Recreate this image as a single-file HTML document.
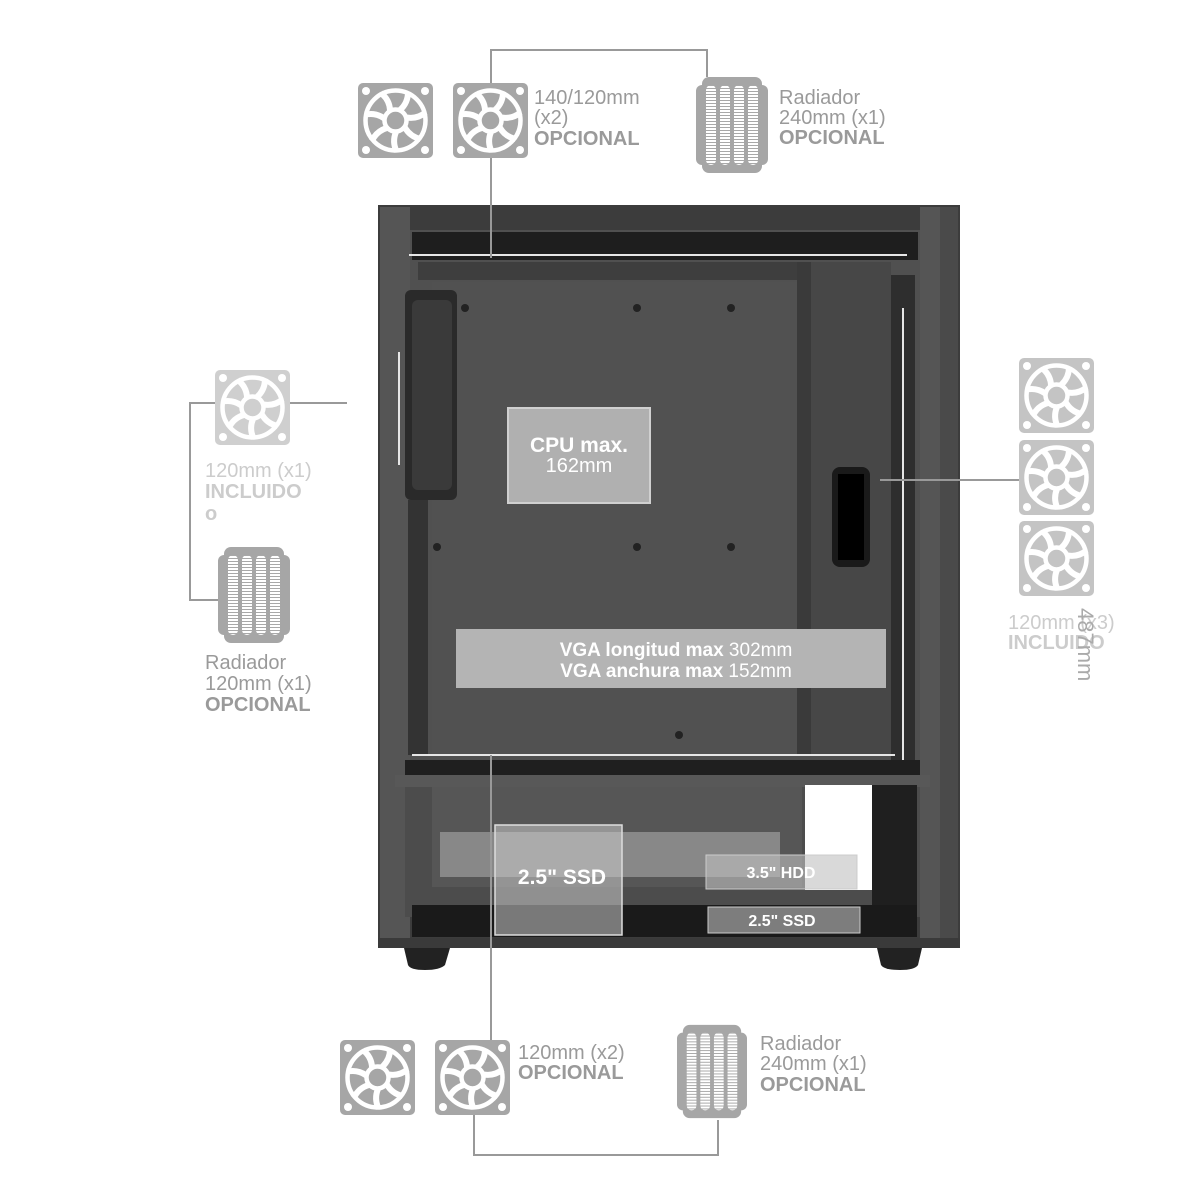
<!DOCTYPE html>
<html><head><meta charset="utf-8"><style>
html,body{margin:0;padding:0;background:#fff;}
svg{display:block;}
text{font-family:"Liberation Sans",sans-serif;}
</style></head><body>
<svg width="1200" height="1200" viewBox="0 0 1200 1200" xmlns="http://www.w3.org/2000/svg">
<defs>
<symbol id="fan" viewBox="0 0 75 75">
 <rect x="0" y="0" width="75" height="75" rx="5" fill="currentColor"/>
 <circle cx="8" cy="8" r="4" fill="#fff"/><circle cx="67" cy="8" r="4" fill="#fff"/>
 <circle cx="8" cy="67" r="4" fill="#fff"/><circle cx="67" cy="67" r="4" fill="#fff"/>
 <circle cx="37.5" cy="37.5" r="30" fill="none" stroke="#fff" stroke-width="4.5"/>
 <circle cx="37.5" cy="37.5" r="11" fill="none" stroke="#fff" stroke-width="4.5"/>
 <g fill="none" stroke="#fff" stroke-width="6">
  <path id="bl" d="M42 27 Q50 20 50 9"/>
  <use href="#bl" transform="rotate(51.4 37.5 37.5)"/>
  <use href="#bl" transform="rotate(102.8 37.5 37.5)"/>
  <use href="#bl" transform="rotate(154.2 37.5 37.5)"/>
  <use href="#bl" transform="rotate(205.6 37.5 37.5)"/>
  <use href="#bl" transform="rotate(257 37.5 37.5)"/>
  <use href="#bl" transform="rotate(308.4 37.5 37.5)"/>
 </g>
 <circle cx="37.5" cy="37.5" r="8.5" fill="currentColor"/>
</symbol>
<pattern id="stripes" width="4" height="3" patternUnits="userSpaceOnUse">
 <rect width="4" height="3" fill="#fff"/><rect y="2" width="4" height="1" fill="#a8a8a8"/>
</pattern>
<symbol id="rad" viewBox="0 0 72 96">
 <rect x="0" y="8" width="72" height="80" rx="6" fill="currentColor"/>
 <rect x="6" y="0" width="60" height="96" rx="7" fill="currentColor"/>
 <g fill="url(#stripes)">
  <rect x="10" y="8" width="10" height="80" rx="5"/>
  <rect x="24" y="8" width="10" height="80" rx="5"/>
  <rect x="38" y="8" width="10" height="80" rx="5"/>
  <rect x="52" y="8" width="10" height="80" rx="5"/>
 </g>
</symbol>
</defs>

<rect x="378" y="205" width="582" height="743" fill="#3c3c3c"/>
<rect x="380" y="207" width="30" height="739" fill="#555"/>
<rect x="920" y="207" width="38" height="739" fill="#555"/>
<rect x="940" y="207" width="18" height="739" fill="#4a4a4a"/>
<rect x="410" y="230" width="510" height="530" fill="#505050"/>
<rect x="412" y="232" width="506" height="28" fill="#1e1e1e"/>
<rect x="418" y="262" width="385" height="18" fill="#3e3e3e"/>
<rect x="432" y="282" width="365" height="474" fill="#515151"/>
<rect x="797" y="262" width="14" height="494" fill="#3a3a3a"/>
<rect x="811" y="262" width="80" height="494" fill="#474747"/>
<rect x="891" y="275" width="24" height="485" fill="#2e2e2e"/>
<rect x="405" y="290" width="52" height="210" rx="6" fill="#2a2a2a"/>
<rect x="412" y="300" width="40" height="190" rx="6" fill="#3a3a3a"/>
<rect x="408" y="500" width="20" height="255" fill="#333"/>
<rect x="832" y="467" width="38" height="100" rx="8" fill="#1a1a1a"/>
<rect x="838" y="474" width="26" height="86" fill="#000"/>
<g fill="#222"><circle cx="465" cy="308" r="4"/><circle cx="637" cy="308" r="4"/><circle cx="731" cy="308" r="4"/>
<circle cx="437" cy="547" r="4"/><circle cx="637" cy="547" r="4"/><circle cx="731" cy="547" r="4"/><circle cx="679" cy="735" r="4"/></g>
<rect x="405" y="760" width="515" height="25" fill="#1f1f1f"/>
<rect x="395" y="775" width="535" height="12" fill="#585858"/>
<rect x="405" y="787" width="515" height="130" fill="#4c4c4c"/>
<rect x="432" y="787" width="370" height="100" fill="#565656"/>
<rect x="440" y="832" width="340" height="45" fill="#9a9a9a" opacity="0.75"/>
<rect x="805" y="785" width="67" height="105" fill="#fff"/>
<rect x="872" y="785" width="45" height="130" fill="#1f1f1f"/>
<rect x="412" y="905" width="505" height="32" fill="#1a1a1a"/>
<rect x="378" y="938" width="582" height="10" fill="#3a3a3a"/>
<path d="M404 948 H450 L445 965 Q440 970 425 970 Q410 970 408 965 Z" fill="#222"/>
<path d="M877 948 H922 L918 965 Q915 970 900 970 Q884 970 881 965 Z" fill="#222"/>

<g stroke="#e6e6e6" stroke-width="2">
<line x1="409" y1="255" x2="907" y2="255"/>
<line x1="412" y1="755" x2="895" y2="755"/>
<line x1="903" y1="308" x2="903" y2="760"/>
<line x1="399" y1="352" x2="399" y2="465"/>
</g>

<rect x="508" y="408" width="142" height="95" fill="#b0b0b0" stroke="#d0d0d0" stroke-width="2"/>
<text x="579" y="452" text-anchor="middle" font-size="21" font-weight="bold" fill="#fff">CPU max.</text>
<text x="579" y="472" text-anchor="middle" font-size="20" fill="#fff">162mm</text>
<rect x="456" y="629" width="430" height="59" fill="#b4b4b4"/>
<text x="676" y="656" text-anchor="middle" font-size="19" fill="#fff"><tspan font-weight="bold">VGA longitud max</tspan> 302mm</text>
<text x="676" y="677" text-anchor="middle" font-size="19" fill="#fff"><tspan font-weight="bold">VGA anchura max</tspan> 152mm</text>
<rect x="495" y="825" width="127" height="110" fill="#c8c8c8" fill-opacity="0.55" stroke="#ddd" stroke-width="1.5"/>
<text x="562" y="884" text-anchor="middle" font-size="21" font-weight="bold" fill="#fff">2.5" SSD</text>
<rect x="706" y="855" width="151" height="34" fill="#c0c0c0" fill-opacity="0.6" stroke="#ccc"/>
<text x="781" y="878" text-anchor="middle" font-size="16" font-weight="bold" fill="#fff">3.5" HDD</text>
<rect x="708" y="907" width="152" height="26" fill="#c0c0c0" fill-opacity="0.6" stroke="#ccc"/>
<text x="782" y="926" text-anchor="middle" font-size="16" font-weight="bold" fill="#fff">2.5" SSD</text>

<g stroke="#999" stroke-width="2" fill="none">
<polyline points="491,83 491,50 707,50 707,77"/>
<line x1="491" y1="158" x2="491" y2="258"/>
<line x1="491" y1="755" x2="491" y2="1040"/>
<polyline points="474,1115 474,1155 718,1155 718,1120"/>
<polyline points="215,403 190,403 190,600 218,600"/>
<line x1="290" y1="403" x2="347" y2="403"/>
<line x1="880" y1="480" x2="1019" y2="480"/>
</g>

<use href="#fan" x="358" y="83" width="75" height="75" color="#a6a6a6"/>
<use href="#fan" x="453" y="83" width="75" height="75" color="#a6a6a6"/>
<use href="#rad" x="696" y="77" width="72" height="96" color="#a6a6a6"/>
<use href="#fan" x="215" y="370" width="75" height="75" color="#cfcfcf"/>
<use href="#rad" x="218" y="547" width="72" height="96" color="#a6a6a6"/>
<use href="#fan" x="1019" y="358" width="75" height="75" color="#c4c4c4"/>
<use href="#fan" x="1019" y="440" width="75" height="75" color="#c4c4c4"/>
<use href="#fan" x="1019" y="521" width="75" height="75" color="#c4c4c4"/>
<use href="#fan" x="340" y="1040" width="75" height="75" color="#a6a6a6"/>
<use href="#fan" x="435" y="1040" width="75" height="75" color="#a6a6a6"/>
<use href="#rad" x="677" y="1023" width="70" height="97" color="#a6a6a6"/>

<g font-size="20" fill="#9a9a9a">
<text x="534" y="104">140/120mm</text><text x="534" y="124">(x2)</text><text x="534" y="145" font-weight="bold">OPCIONAL</text>
<text x="779" y="104">Radiador</text><text x="779" y="124">240mm (x1)</text><text x="779" y="144" font-weight="bold">OPCIONAL</text>
<text x="205" y="669">Radiador</text><text x="205" y="690">120mm (x1)</text><text x="205" y="711" font-weight="bold">OPCIONAL</text>
<text x="518" y="1059">120mm (x2)</text><text x="518" y="1079" font-weight="bold">OPCIONAL</text>
<text x="760" y="1050">Radiador</text><text x="760" y="1070">240mm (x1)</text><text x="760" y="1091" font-weight="bold">OPCIONAL</text>
</g>
<g font-size="20" fill="#cccccc">
<text x="205" y="477">120mm (x1)</text><text x="205" y="498" font-weight="bold">INCLUIDO</text><text x="205" y="520" font-weight="bold">o</text>
<text x="1008" y="629">120mm (x3)</text><text x="1008" y="649" font-weight="bold">INCLUIDO</text>
</g>
<text x="0" y="0" font-size="22" fill="#aaa" transform="translate(1078,608) rotate(90)">487mm</text>
</svg>
</body></html>
